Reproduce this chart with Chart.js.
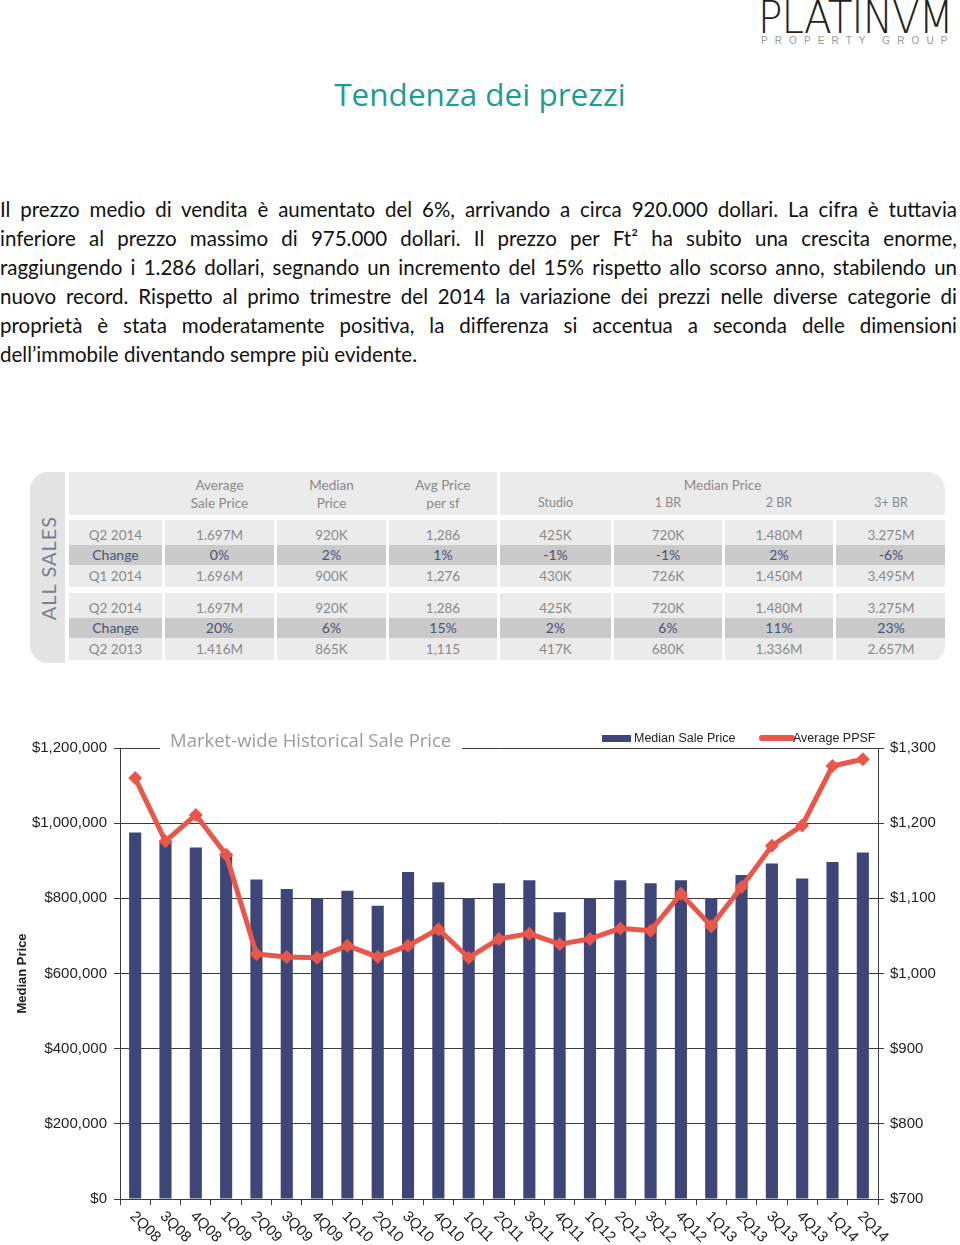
<!DOCTYPE html>
<html>
<head>
<meta charset="utf-8">
<script src="https://cdn.jsdelivr.net/npm/chart.js@4.4.1/dist/chart.umd.min.js"></script>
<style>
    body { margin: 0; width: 960px; height: 1245px; position: relative; background: #fff; overflow: hidden; font-family: Lato, "Open Sans", sans-serif; }
    .logo { position: absolute; left: 758px; top: -9px; font-family: "DejaVu Sans"; font-weight: 200; font-size: 45px; color: #222; transform: scaleX(0.9); transform-origin: left top; letter-spacing: -1px; white-space: nowrap; }
    .logo-sub { position: absolute; left: 761px; top: 35px; font-family: "Liberation Sans"; font-size: 10px; color: #9a9a9a; letter-spacing: 7.1px; white-space: nowrap; }
    h1 { position: absolute; left: 0; width: 960px; top: 73px; margin: 0; text-align: center; font-weight: 400; font-size: 31.5px; line-height: 42px; color: #1f9c98; font-family: "Open Sans", Lato, sans-serif; }
    .para { position: absolute; left: 0; top: 195px; width: 957px; font-size: 20.5px; line-height: 29px; color: #111; }
    .para div { text-align: justify; text-align-last: justify; white-space: nowrap; }
    .para div.last { text-align-last: left; }
    .panel { position: absolute; left: 30px; top: 472px; width: 915px; height: 191px; border-radius: 18px; overflow: hidden; background: #fff; }
    .panel div { position: absolute; box-sizing: border-box; text-align: center; color: #8a8a8a; font-size: 13.5px; }
    .strip { background: #e4e4e4; }
    .strip span { position: absolute; left: 50%; top: 50%; transform: translate(-50%, -50%) rotate(-90deg); font-size: 20px; letter-spacing: 1px; color: #7b7e93; white-space: nowrap; }
    #chartWrap { position: absolute; left: 0; top: 720px; width: 960px; height: 525px; }
</style>
</head>
<body>
<div class="logo">PLATINVM</div>
<div class="logo-sub">PROPERTY GROUP</div>
<h1>Tendenza dei prezzi</h1>
<div class="para">
    <div>Il prezzo medio di vendita è aumentato del 6%, arrivando a circa 920.000 dollari. La cifra è tuttavia</div>
    <div>inferiore al prezzo massimo di 975.000 dollari. Il prezzo per Ft² ha subito una crescita enorme,</div>
    <div>raggiungendo i 1.286 dollari, segnando un incremento del 15% rispetto allo scorso anno, stabilendo un</div>
    <div>nuovo record. Rispetto al primo trimestre del 2014 la variazione dei prezzi nelle diverse categorie di</div>
    <div>proprietà è stata moderatamente positiva, la differenza si accentua a seconda delle dimensioni</div>
    <div class="last">dell’immobile diventando sempre più evidente.</div>
</div>
<div class="panel" id="panel"></div>
<div id="chartWrap"><canvas id="priceChart" width="960" height="525"></canvas></div>

<script>
// --- table data ---
const headLeft = ['Average<br>Sale Price', 'Median<br>Price', 'Avg Price<br>per sf'];
const headRooms = ['Studio', '1 BR', '2 BR', '3+ BR'];
const quarterRows = [
    ['Q2 2014', '1.697M', '920K', '1,286', '425K', '720K', '1.480M', '3.275M'],
    ['Change', '0%', '2%', '1%', '-1%', '-1%', '2%', '-6%'],
    ['Q1 2014', '1.696M', '900K', '1,276', '430K', '726K', '1.450M', '3.495M']
];
const yearRows = [
    ['Q2 2014', '1.697M', '920K', '1,286', '425K', '720K', '1.480M', '3.275M'],
    ['Change', '20%', '6%', '15%', '2%', '6%', '11%', '23%'],
    ['Q2 2013', '1.416M', '865K', '1,115', '417K', '680K', '1.336M', '2.657M']
];

// --- chart data ---
const quarters = ['2Q08', '3Q08', '4Q08', '1Q09', '2Q09', '3Q09', '4Q09', '1Q10', '2Q10', '3Q10', '4Q10', '1Q11', '2Q11',
    '3Q11', '4Q11', '1Q12', '2Q12', '3Q12', '4Q12', '1Q13', '2Q13', '3Q13', '4Q13', '1Q14', '2Q14'];
const medianSalePrice = [975000, 950000, 935000, 920000, 850000, 825000, 800000, 820000, 780000, 870000, 843000, 800000, 840000,
    848000, 763000, 800000, 848000, 840000, 848000, 800000, 862000, 893000, 853000, 897000, 922000];
const averagePPSF = [1260, 1176, 1211, 1158, 1026, 1022, 1021, 1037, 1022, 1037, 1059, 1021, 1046,
    1053, 1039, 1046, 1060, 1057, 1106, 1063, 1115, 1170, 1197, 1276, 1285];
const leftTicks = [0, 200000, 400000, 600000, 800000, 1000000, 1200000];
const rightTicks = [700, 800, 900, 1000, 1100, 1200, 1300];

// --- build the table panel ---
const panel = document.getElementById('panel');
const X0 = 30, Y0 = 472;
const cols = [[69, 93], [165, 109], [277, 109], [389, 108], [500, 111], [614, 108], [725, 108], [836, 110]];

function box(x, y, w, h, bg, html, extra) {
    const d = document.createElement('div');
    d.style.left = (x - X0) + 'px';
    d.style.top = (y - Y0) + 'px';
    d.style.width = w + 'px';
    d.style.height = h + 'px';
    d.style.background = bg;
    if (html !== undefined) {
        d.innerHTML = html;
        d.style.lineHeight = h + 'px';
    }
    if (extra) Object.assign(d.style, extra);
    panel.appendChild(d);
    return d;
}

const strip = box(30, 472, 35, 191, '#e4e4e4');
strip.className = 'strip';
strip.innerHTML = '<span>ALL SALES</span>';

box(69, 472, 428, 43, '#ebebeb');
box(500, 472, 445, 43, '#ebebeb');
headLeft.forEach((t, i) => {
    const c = cols[i + 1];
    box(c[0], 476, c[1], 36, 'transparent', t, { lineHeight: '18px', fontSize: '13.5px' });
});
box(500, 476, 445, 18, 'transparent', 'Median Price', { lineHeight: '18px' });
headRooms.forEach((t, i) => {
    const c = cols[i + 4];
    box(c[0], 494, c[1], 18, 'transparent', t, { lineHeight: '18px', fontSize: '12.5px' });
});

function drawBlock(rows, top) {
    const heights = [25, 20, 22];
    let y = top;
    rows.forEach((row, r) => {
        const change = r === 1;
        row.forEach((v, i) => {
            const c = cols[i];
            box(c[0], y, c[1], heights[r], change ? '#cacaca' : '#ebebeb', v,
                change ? { color: '#4d5275', fontSize: '14px' } : { paddingTop: r === 0 ? '3px' : '0' });
        });
        y += heights[r];
    });
}
drawBlock(quarterRows, 520);
drawBlock(yearRows, 593);

// --- chart ---
const axisColor = '#3a3a3a';
const fmt = v => '$' + v.toLocaleString('en-US');

const chartDecor = {
    id: 'chartDecor',
    afterDraw(chart) {
        const ctx = chart.ctx;
        const x = chart.scales.x;
        const area = chart.chartArea;
        ctx.save();

        // rotated quarter labels
        ctx.font = '15px "Liberation Sans", Arial';
        ctx.fillStyle = '#222';
        ctx.textAlign = 'left';
        ctx.textBaseline = 'middle';
        quarters.forEach((q, i) => {
            const px = x.getPixelForValue(i);
            ctx.save();
            ctx.translate(px - 3, area.bottom + 15);
            ctx.rotate(Math.PI / 4);
            ctx.fillText(q, 0, 0);
            ctx.restore();
        });

        // y axis title
        ctx.save();
        ctx.translate(22, (area.top + area.bottom) / 2);
        ctx.rotate(-Math.PI / 2);
        ctx.textAlign = 'center';
        ctx.font = 'bold 13px "Liberation Sans", Arial';
        ctx.fillText('Median Price', 0, 0);
        ctx.restore();

        // chart title over the top grid line
        ctx.fillStyle = '#fff';
        ctx.fillRect(160, area.top - 6, 302, 12);
        ctx.font = '18.5px "Open Sans", Lato, sans-serif';
        ctx.fillStyle = '#9b9b9b';
        ctx.textBaseline = 'alphabetic';
        ctx.fillText('Market-wide Historical Sale Price', 170, area.top - 1);

        // legend
        const ly = area.top - 10;
        ctx.fillStyle = chart.data.datasets[1].backgroundColor;
        ctx.fillRect(602, ly - 3, 29, 7);
        ctx.fillStyle = '#222';
        ctx.font = '12.5px "Liberation Sans", Arial';
        ctx.textBaseline = 'middle';
        ctx.fillText('Median Sale Price', 634, ly + 1);
        ctx.strokeStyle = chart.data.datasets[0].borderColor;
        ctx.lineWidth = 6;
        ctx.lineCap = 'round';
        ctx.beginPath();
        ctx.moveTo(762, ly);
        ctx.lineTo(792, ly);
        ctx.stroke();
        ctx.fillText('Average PPSF', 793, ly + 1);
        ctx.restore();
    }
};

new Chart(document.getElementById('priceChart'), {
    type: 'bar',
    data: {
        labels: quarters,
        datasets: [
            {
                type: 'line',
                label: 'Average PPSF',
                data: averagePPSF,
                yAxisID: 'y1',
                order: 0,
                borderColor: '#e8574a',
                backgroundColor: '#e8574a',
                borderWidth: 5,
                pointStyle: 'rectRot',
                pointRadius: 7,
                pointBorderWidth: 0,
                tension: 0
            },
            {
                type: 'bar',
                label: 'Median Sale Price',
                data: medianSalePrice,
                yAxisID: 'y',
                order: 1,
                backgroundColor: '#3e4678',
                barPercentage: 0.4,
                categoryPercentage: 1
            }
        ]
    },
    options: {
        responsive: false,
        animation: false,
        layout: { padding: { top: 28, left: 0, right: 0, bottom: 0 } },
        plugins: { legend: { display: false }, tooltip: { enabled: false } },
        scales: {
            x: {
                type: 'category',
                offset: true,
                ticks: { display: false },
                grid: { drawOnChartArea: false, color: axisColor, tickLength: 6, offset: true },
                border: { color: axisColor },
                afterFit: s => { s.height = 46; }
            },
            y: {
                position: 'left',
                min: 0,
                max: 1200000,
                afterBuildTicks: s => { s.ticks = leftTicks.map(v => ({ value: v })); },
                ticks: {
                    callback: v => fmt(v),
                    color: '#222',
                    padding: 7,
                    font: { size: 15, family: '"Liberation Sans", Arial' }
                },
                grid: { color: axisColor, tickLength: 6 },
                border: { color: axisColor },
                afterFit: s => { s.width = 120; }
            },
            y1: {
                position: 'right',
                min: 700,
                max: 1300,
                afterBuildTicks: s => { s.ticks = rightTicks.map(v => ({ value: v })); },
                ticks: {
                    callback: v => fmt(v),
                    color: '#222',
                    padding: 6,
                    font: { size: 15, family: '"Liberation Sans", Arial' }
                },
                grid: { drawOnChartArea: false, color: axisColor, tickLength: 6 },
                border: { color: axisColor },
                afterFit: s => { s.width = 82; }
            }
        }
    },
    plugins: [chartDecor]
});
</script>
</body>
</html>
